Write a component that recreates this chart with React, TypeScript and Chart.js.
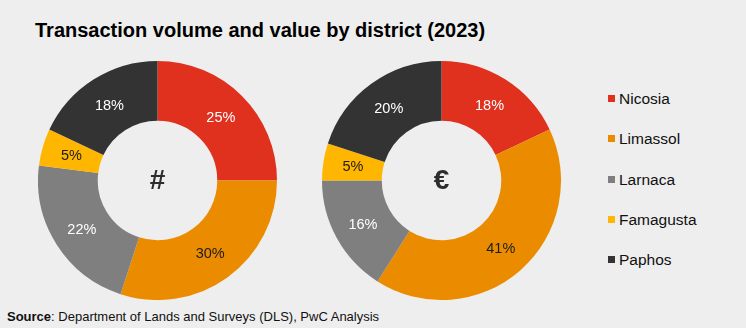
import React, { useEffect, useRef } from "react";
import { Chart, registerables } from "chart.js";

Chart.register(...registerables);

const districts = ["Nicosia", "Limassol", "Larnaca", "Famagusta", "Paphos"];
const volumeShare = [25, 30, 22, 5, 18];
const valueShare = [18, 41, 16, 5, 20];
const sliceColors = ["#e0301e", "#eb8c00", "#7f7f7f", "#ffb600", "#333333"];
const labelColors = ["#ffffff", "#1c1c1c", "#ffffff", "#1c1c1c", "#ffffff"];
const centerSymbols = ["#", "€"];
const titleText = "Transaction volume and value by district (2023)";
const sourceLabel = "Source";
const sourceText = ": Department of Lands and Surveys (DLS), PwC Analysis";

const FONT = "'Liberation Sans', Arial, Helvetica, sans-serif";

const sliceLabelPlugin = {
  id: "sliceLabels",
  afterDatasetsDraw(chart: any, _args: any, opts: any) {
    const ctx = chart.ctx;
    const meta = chart.getDatasetMeta(0);
    const data = chart.data.datasets[0].data;
    ctx.save();
    ctx.textAlign = "center";
    ctx.textBaseline = "middle";
    ctx.font = `14.5px ${FONT}`;
    let cx = 0;
    let cy = 0;
    meta.data.forEach((arc: any, i: number) => {
      const p = arc.getProps(["x", "y", "startAngle", "endAngle", "innerRadius", "outerRadius"], true);
      const mid = (p.startAngle + p.endAngle) / 2;
      const r = (p.innerRadius + p.outerRadius) / 2;
      cx = p.x;
      cy = p.y;
      ctx.fillStyle = labelColors[i];
      ctx.fillText(`${data[i]}%`, p.x + Math.cos(mid) * r, p.y + Math.sin(mid) * r + 1);
    });
    ctx.font = `bold 28px ${FONT}`;
    ctx.fillStyle = "#2d2d2d";
    ctx.fillText(opts.symbol || "", cx, cy + 1);
    ctx.restore();
  },
};

function Donut({ values, symbol, left }: { values: number[]; symbol: string; left: number }) {
  const ref = useRef<HTMLCanvasElement | null>(null);
  useEffect(() => {
    if (!ref.current) return;
    const chart = new Chart(ref.current, {
      type: "doughnut",
      data: {
        labels: districts,
        datasets: [
          {
            data: values,
            backgroundColor: sliceColors,
            borderWidth: 0,
            hoverOffset: 0,
          },
        ],
      },
      options: {
        responsive: false,
        animation: false,
        cutout: "50%",
        layout: { padding: 0 },
        plugins: {
          legend: { display: false },
          tooltip: { enabled: false },
          sliceLabels: { symbol },
        } as any,
      },
      plugins: [sliceLabelPlugin],
    });
    return () => chart.destroy();
  }, [values, symbol]);
  return (
    <canvas
      ref={ref}
      width={239}
      height={239}
      style={{ position: "absolute", left, top: 61, width: 239, height: 239 }}
    />
  );
}

export default function App() {
  useEffect(() => {
    document.body.style.margin = "0";
    document.body.style.background = "#eeeeee";
  }, []);
  return (
    <div
      style={{
        position: "fixed",
        left: 0,
        top: 0,
        width: 746,
        height: 328,
        background: "#eeeeee",
        fontFamily: FONT,
        overflow: "hidden",
      }}
    >
      <div
        style={{
          position: "absolute",
          left: 35,
          top: 20,
          fontSize: 20,
          lineHeight: "20px",
          fontWeight: "bold",
          color: "#000",
          whiteSpace: "nowrap",
        }}
      >
        {titleText}
      </div>
      <Donut values={volumeShare} symbol={centerSymbols[0]} left={38} />
      <Donut values={valueShare} symbol={centerSymbols[1]} left={322} />
      {districts.map((d, i) => (
        <div key={d}>
          <div
            style={{
              position: "absolute",
              left: 608,
              top: 95 + i * 40.25,
              width: 7,
              height: 7,
              background: sliceColors[i],
            }}
          />
          <div
            style={{
              position: "absolute",
              left: 619,
              top: 91 + i * 40.25,
              fontSize: 15.5,
              lineHeight: "15.5px",
              color: "#111",
              whiteSpace: "nowrap",
            }}
          >
            {d}
          </div>
        </div>
      ))}
      <div
        style={{
          position: "absolute",
          left: 7,
          top: 310,
          fontSize: 13,
          lineHeight: "13px",
          color: "#111",
          whiteSpace: "nowrap",
        }}
      >
        <b>{sourceLabel}</b>
        {sourceText}
      </div>
    </div>
  );
}
